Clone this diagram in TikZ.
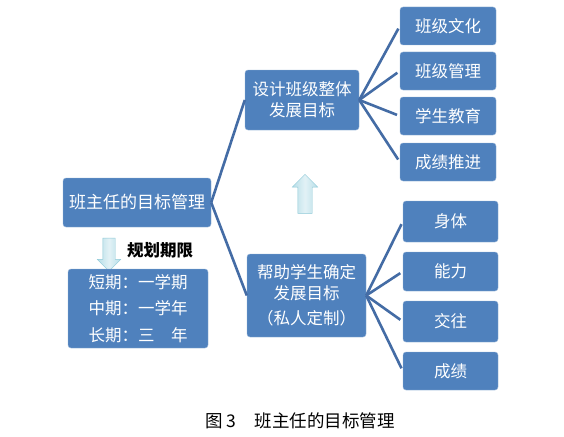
\documentclass[tikz,border=0pt]{standalone}
\usepackage{fontspec}
\setmainfont{Noto Sans CJK SC}
\usetikzlibrary{shapes.arrows,positioning}
\definecolor{boxblue}{RGB}{79,129,189}
\definecolor{boxedge}{RGB}{150,180,215}
\definecolor{linkblue}{RGB}{68,108,165}
\definecolor{arrowfill}{RGB}{183,222,232}
\definecolor{arrowedge}{RGB}{140,200,215}

\begin{document}
\begin{tikzpicture}[x=1pt,y=-1pt,
    goal/.style={draw=boxedge,thin,fill=boxblue,rounded corners=3pt,inner sep=0pt,
                 align=center,text=white,font=\fontsize{16.5}{21}\selectfont},
    item/.style={goal,minimum width=96pt,minimum height=38pt},
    link/.style={draw=linkblue,line width=2.6pt,shorten >=3pt},
    blockarrow/.style={shape=single arrow,draw=arrowedge,thin,inner xsep=0pt,inner ysep=6pt,
                       single arrow head extend=5.5pt,
                       left color=arrowfill,right color=arrowfill,middle color=white!60!arrowfill}
  ]
    \fill[white] (0,0) rectangle (564,436);
    \useasboundingbox (0,0) rectangle (564,436);

    \node[goal,minimum width=148pt,minimum height=49pt,font=\fontsize{17}{21}\selectfont] (main) at (137,202.5) {班主任的目标管理};
    \node[blockarrow,minimum height=33pt,rotate=-90] (dnarrow) at (109,251.5) {};
    \node[font=\fontsize{16.5}{18}\selectfont\bfseries] (plan) at (160,250) {规划期限};
    \node[goal,minimum width=140pt,minimum height=79pt,font=\fontsize{16.5}{26.5}\selectfont] (period) at (138,308.5)
      {短期：一学期\\中期：一学年\\长期：三　年};

    \node[goal,minimum width=114pt,minimum height=60pt] (design) at (302,100) {设计班级整体\\发展目标};
    \node[blockarrow,minimum height=39pt,inner ysep=7pt,rotate=90] (uparrow) at (305,197.5) {};
    \node[goal,minimum width=119pt,minimum height=83pt] (help) at (306.5,295.5)
      {帮助学生确定\\发展目标\\[4pt]（私人定制）};

    \node[item] (culture) at (448,26)  {班级文化};
    \node[item] (manage)  at (448,71)  {班级管理};
    \node[item] (educate) at (448,116) {学生教育};
    \node[item] (score)   at (448,162) {成绩推进};

    \node[item,minimum width=95pt,minimum height=41pt] (body)   at (450.5,221.5) {身体};
    \node[item,minimum width=95pt,minimum height=39pt] (skill)  at (450.5,271.5) {能力};
    \node[item,minimum width=95pt,minimum height=41pt] (social) at (450.5,321.5) {交往};
    \node[item,minimum width=95pt,minimum height=38pt] (grade)  at (450.5,371)   {成绩};

    \draw[link,shorten >=0pt] (main.east) -- (design.west);
    \draw[link,shorten >=0pt] (main.east) -- (help.west);
    \foreach \n in {culture,manage,educate,score}
      \draw[link] (design.east) -- (\n.west);
    \foreach \n in {body,skill,social,grade}
      \draw[link] (help.east) -- (\n.west);

    \node[font=\fontsize{17.5}{20}\selectfont] (caption) at (300,421) {图 3\hspace{18pt}班主任的目标管理};
  \end{tikzpicture}
\end{document}
